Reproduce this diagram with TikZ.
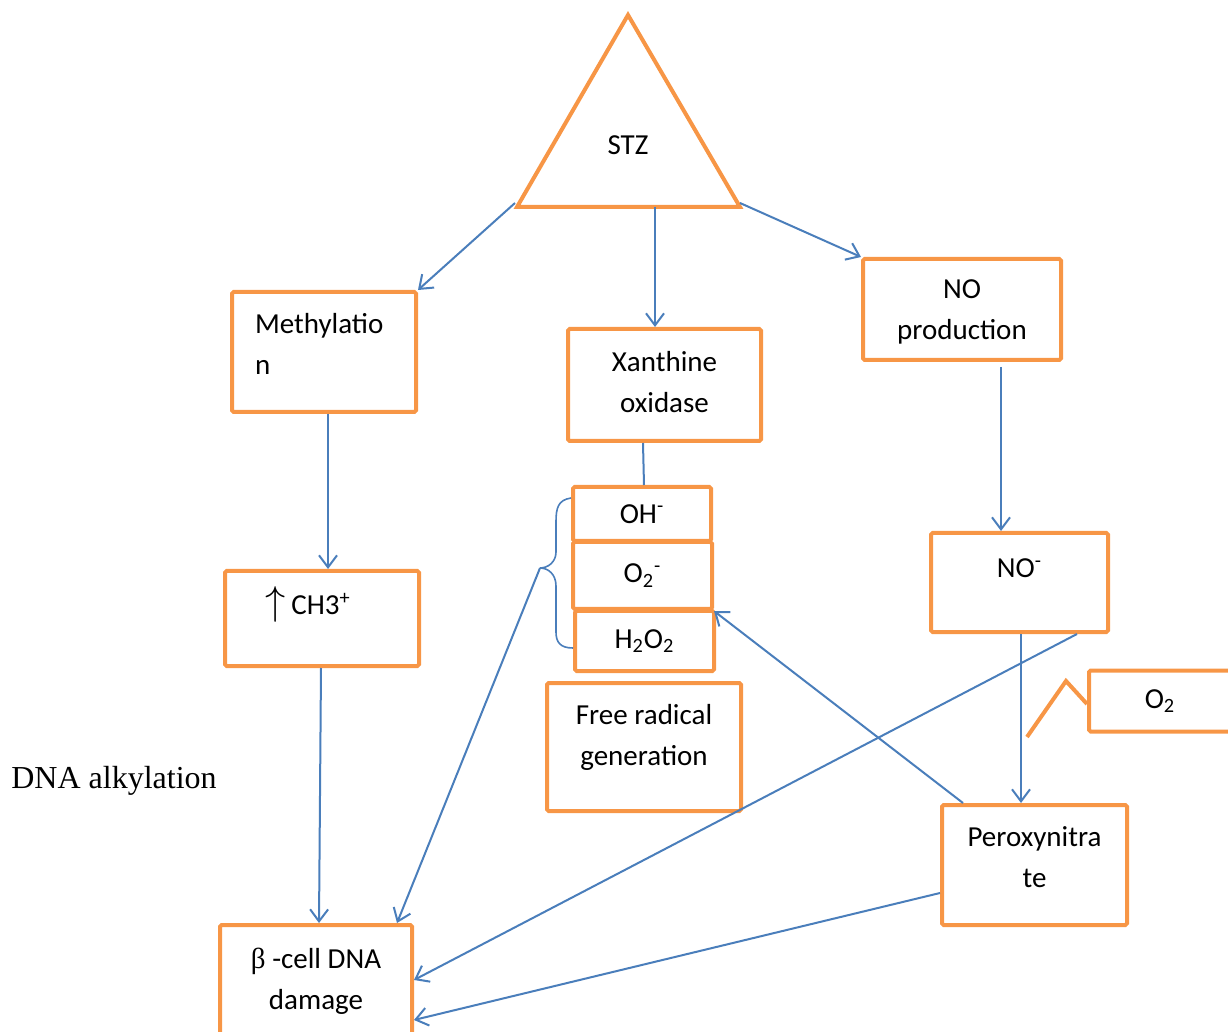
\documentclass[tikz,border=0pt]{standalone}
\usepackage{fontspec}
\setmainfont{Carlito}
\newfontfamily\timesfont{Liberation Serif}
\usetikzlibrary{arrows.meta}
\definecolor{boxorange}{HTML}{F79646}
\definecolor{linkblue}{HTML}{4A7EBB}

\begin{document}
\begin{tikzpicture}[x=0.5pt, y=-0.5pt, >={Straight Barb[length=6pt,width=9pt]},
  font=\fontsize{14.5}{20.5}\selectfont,
  box/.style={draw=boxorange, line width=2pt, rounded corners=0.8pt, align=center, inner sep=0pt},
  link/.style={draw=linkblue, line width=1pt}]
  \useasboundingbox (0,0) rectangle (1228,1032);

  % triangle
  \coordinate (apex) at (628,15);
  \coordinate (bl) at (517,207);
  \coordinate (br) at (740,207);
  \draw[boxorange, line width=2pt, line join=miter] (apex) -- (bl) -- (br) -- cycle;
  \node (stz) at (628,145) {STZ};
  \coordinate (stzl) at (515,203);
  \coordinate (stzm) at (655,207);
  \coordinate (stzr) at (740,203);

  % boxes
  \node[box, minimum width=92pt, minimum height=60pt, text width=69pt, align=left, text depth=29pt] (meth) at (324,352) {Methylatio\\n};
  \node[box, minimum width=96.5pt, minimum height=56pt, text depth=3pt] (xan) at (664.5,385) {Xanthine\\oxidase};
  \node[box, minimum width=99pt, minimum height=50.5pt, text depth=0pt] (nop) at (962,309.5) {NO\\production};
  \node[box, minimum width=69pt, minimum height=27pt] (oh) at (642,514) {OH\textsuperscript{-}};
  \node[box, minimum width=69.5pt, minimum height=33.5pt] (o2m) at (642.5,575.5) {O\textsubscript{2}\textsuperscript{-}};
  \node[box, minimum width=69.5pt, minimum height=30pt] (hoo) at (644.5,641) {H\textsubscript{2}O\textsubscript{2}};
  \node[box, minimum width=97pt, minimum height=64pt, text depth=12pt] (free) at (644,747) {Free radical\\generation};
  \node[box, minimum width=97pt, minimum height=47.5pt, text height=10pt, text depth=13.5pt] (ch3) at (322,618.5) {\scalebox{1.4}{$\uparrow$}\hspace{3pt}CH3\textsuperscript{+}\hspace*{14pt}};
  \node[box, minimum width=88.5pt, minimum height=49.5pt, text height=10pt, text depth=14.5pt] (nom) at (1019.5,582.5) {NO\textsuperscript{-}};
  \node[box, minimum width=71pt, minimum height=30.5pt] (oxy) at (1160,701) {O\textsubscript{2}};
  \node[box, minimum width=92.5pt, minimum height=60pt, text depth=8pt] (perox) at (1034.5,865) {Peroxynitra\\te};
  \node[box, minimum width=96pt, minimum height=56pt] (dna) at (316,981) {{\timesfont β} -cell DNA\\damage};
  \node[font=\timesfont\fontsize{16}{19}\selectfont] (alk) at (114,781) {DNA alkylation};

  % brace
  \coordinate (brace) at (540,568);
  \draw[link, line width=0.8pt] (oh.west |- 0,498) .. controls (558,500) and (556,508) .. (556,522)
    -- (556,552) .. controls (556,562) and (548,568) .. (brace)
    .. controls (548,568) and (556,574) .. (556,586) -- (556,632)
    .. controls (556,642) and (560,648) .. (hoo.west |- 0,648);

  % orange link to O2
  \draw[boxorange, line width=2pt] (1027,737) -- (1066,681) -- (oxy.west |- 0,704);

  % connectors
  \draw[link, ->] (stzl) -- (meth.north east);
  \draw[link, ->] (stzm) -- (stzm |- xan.north);
  \draw[link, ->] (stzr) -- (nop.north west);
  \draw[link, ->] (meth.south -| 328,0) -- (ch3.north -| 328,0);
  \draw[link] (xan.south -| 643,0) -- (oh.north -| 644,0);
  \draw[link, ->] (1001,367) -- (nom.north -| 1001,0);
  \draw[link, ->] (ch3.south -| 321,0) -- (dna.north -| 319,0);
  \draw[link, ->] (brace) -- (dna.north -| 397,0);
  \draw[link, ->] (nom.south -| 1077,0) -- (dna.east |- 0,980);
  \draw[link, ->] (perox.north -| 963,0) -- (o2m.south east);
  \draw[link, ->] (perox.west |- 0,893) -- (dna.east |- 0,1020);
  \draw[link, ->] (nom.south -| 1021,0) -- (perox.north -| 1021,0);
\end{tikzpicture}
\end{document}
